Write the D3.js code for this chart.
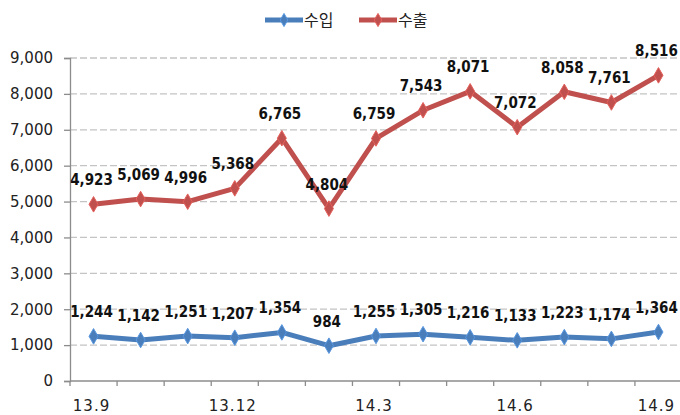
<!DOCTYPE html>
<html>
<head>
<meta charset="utf-8">
<script src="https://cdn.jsdelivr.net/npm/d3@7"></script>
<style>
  body { margin: 0; background: #fff; }
  .container { width: 680px; height: 415px; }
</style>
</head>
<body>
<div class="container"></div>
<script>
const WIDTH = 680;
const HEIGHT = 415;

// data
var months = ["13.9", "13.10", "13.11", "13.12", "14.1", "14.2", "14.3", "14.4", "14.5", "14.6", "14.7", "14.8", "14.9"];
var shownMonths = ["13.9", "13.12", "14.3", "14.6", "14.9"];
var imports = [1244, 1142, 1251, 1207, 1354, 984, 1255, 1305, 1216, 1133, 1223, 1174, 1364];
var exports = [4923, 5069, 4996, 5368, 6765, 4804, 6759, 7543, 8071, 7072, 8058, 7761, 8516];
var yTicks = [0, 1000, 2000, 3000, 4000, 5000, 6000, 7000, 8000, 9000];
var seriesNames = ["수입", "수출"];

var BLUE = "#4a7ebb";
var RED = "#c0504d";

var svg = d3.select(".container")
    .append("svg")
    .attr("width", WIDTH)
    .attr("height", HEIGHT)
    .style("font-family", "'DejaVu Sans', sans-serif");

var xScale = d3.scaleBand()
    .domain(months)
    .range([70, 682]);

var yScale = d3.scaleLinear()
    .domain([0, 9000])
    .range([381, 58]);

var px = function (i) { return xScale(months[i]) + xScale.bandwidth() / 2; };

// grid
svg.append("g")
    .selectAll("line")
    .data(yTicks.filter(function (d) { return d > 0; }))
    .join("line")
    .attr("x1", 70)
    .attr("x2", WIDTH)
    .attr("y1", function (d) { return yScale(d); })
    .attr("y2", function (d) { return yScale(d); })
    .attr("stroke", "#c4c4c4")
    .attr("stroke-width", 1.3)
    .attr("stroke-dasharray", "7,3");

// y axis
var yAxis = svg.append("g")
    .attr("transform", "translate(70,0)")
    .call(d3.axisLeft(yScale).tickValues(yTicks).tickSize(6).tickPadding(11).tickFormat(d3.format(",")));
yAxis.select(".domain").attr("stroke", "#8c8c8c").attr("stroke-width", 1.3);
yAxis.selectAll(".tick line").attr("stroke", "#8c8c8c").attr("stroke-width", 1.3);
yAxis.selectAll("text")
    .attr("font-size", 15)
    .attr("fill", "#222")
    .style("font-family", "'DejaVu Sans', sans-serif");

// x axis: ticks at category borders
var xg = svg.append("g").attr("transform", "translate(0,381)");
xg.append("line")
    .attr("x1", 70).attr("x2", WIDTH)
    .attr("stroke", "#8c8c8c").attr("stroke-width", 1.3);
xg.selectAll(".xt")
    .data(months)
    .join("line")
    .attr("class", "xt")
    .attr("x1", function (d) { return xScale(d); })
    .attr("x2", function (d) { return xScale(d); })
    .attr("y1", 0).attr("y2", 5)
    .attr("stroke", "#8c8c8c").attr("stroke-width", 1.3);
xg.selectAll("text")
    .data(shownMonths)
    .join("text")
    .attr("x", function (d) { return xScale(d) + xScale.bandwidth() / 2 - 2; })
    .attr("y", 30)
    .attr("text-anchor", "middle")
    .attr("font-size", 15)
    .attr("letter-spacing", 1)
    .attr("fill", "#222")
    .text(function (d) { return d; });

var line = d3.line()
    .x(function (d, i) { return px(i); })
    .y(function (d) { return yScale(d); });

var diamond = d3.symbol().type(d3.symbolDiamond).size(70);

function drawSeries(values, color) {
    var g = svg.append("g");
    g.append("path")
        .attr("d", line(values))
        .attr("fill", "none")
        .attr("stroke", color)
        .attr("stroke-width", 5)
        .attr("stroke-linejoin", "round");
    g.selectAll("path.mk")
        .data(values)
        .join("path")
        .attr("class", "mk")
        .attr("d", diamond)
        .attr("transform", function (d, i) { return "translate(" + px(i) + "," + yScale(d) + ")"; })
        .attr("fill", color)
        .attr("stroke", d3.color(color).brighter(0.5))
        .attr("stroke-width", 1);
    g.selectAll("text")
        .data(values)
        .join("text")
        .attr("x", function (d, i) { return px(i) - 2; })
        .attr("y", function (d) { return yScale(d) - 19; })
        .attr("text-anchor", "middle")
        .attr("font-size", 15)
        .attr("font-weight", "bold")
        .attr("font-stretch", "condensed")
        .style("font-family", "'DejaVu Sans Condensed', 'DejaVu Sans', sans-serif")
        .attr("fill", "#111")
        .text(function (d) { return d3.format(",")(d); });
}

drawSeries(imports, BLUE);
drawSeries(exports, RED);

// legend
var legend = svg.append("g").attr("transform", "translate(265,20)");
[BLUE, RED].forEach(function (c, i) {
    var lg = legend.append("g").attr("transform", "translate(" + (i * 94) + ",0)");
    lg.append("line")
        .attr("x1", 0).attr("x2", 38)
        .attr("stroke", c).attr("stroke-width", 5);
    lg.append("path")
        .attr("d", d3.symbol().type(d3.symbolDiamond).size(50))
        .attr("transform", "translate(19,0)")
        .attr("fill", c)
        .attr("stroke", d3.color(c).brighter(0.5))
        .attr("stroke-width", 1);
    lg.append("text")
        .attr("x", 39)
        .attr("y", 6)
        .attr("font-size", 16)
        .attr("fill", "#222")
        .style("font-family", "'Noto Sans CJK KR', sans-serif")
        .text(seriesNames[i]);
});
</script>
</body>
</html>
